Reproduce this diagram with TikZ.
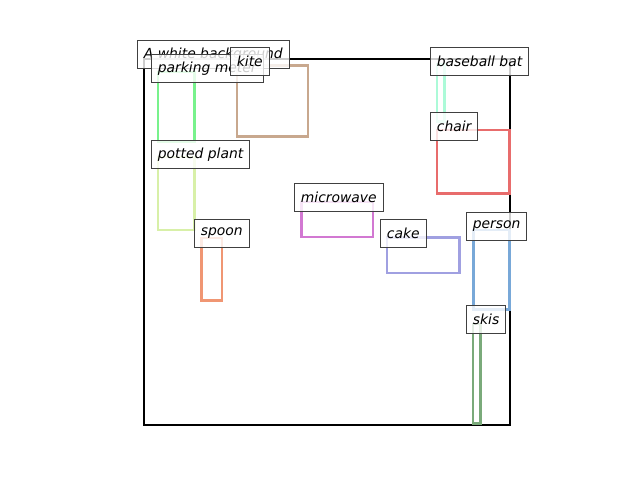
\documentclass[tikz,border=0pt]{standalone}
\usepackage{fontspec}
\setmainfont{DejaVu Sans}
\definecolor{meter}{RGB}{120,242,140}
\definecolor{plant}{RGB}{216,240,168}
\definecolor{kitec}{RGB}{200,168,142}
\definecolor{batc}{RGB}{172,250,216}
\definecolor{chairc}{RGB}{232,108,108}
\definecolor{spoonc}{RGB}{240,150,115}
\definecolor{micro}{RGB}{210,120,210}
\definecolor{cakec}{RGB}{160,160,225}
\definecolor{personc}{RGB}{120,168,216}
\definecolor{skisc}{RGB}{122,170,122}
\begin{document}
\begin{tikzpicture}[x=0.72pt,y=-0.72pt,
    objbox/.style ={line width=1.5pt},
    tag/.style ={draw=black!75, line width=0.7pt, fill=white, fill opacity=0.8, text opacity=1,
        anchor=north west, inner xsep=4.6pt, inner ysep=0pt, minimum height=20.2pt,
        font=\fontsize{10}{12}\selectfont\itshape}]
   \useasboundingbox (0,0) rectangle (640,480);
   \draw[line width=1.5pt] (144,59) rectangle (510,425);
   \draw[objbox,meter] (158,72) rectangle (194.5,141.5);
   \draw[objbox,plant] (158,157) rectangle (194.5,230);
   \draw[objbox,kitec] (237,65.5) rectangle (308,136.5);
   \draw[objbox,batc] (437,64) rectangle (444.5,121.5);
   \draw[objbox,chairc] (437,130) rectangle (509.5,193.5);
   \draw[objbox,spoonc] (201.5,238) rectangle (222,300.5);
   \draw[objbox,micro] (301.5,202) rectangle (373,237);
   \draw[objbox,cakec] (387,237.5) rectangle (459.5,273);
   \draw[objbox,personc] (473.5,230) rectangle (509.5,309.5);
   \draw[objbox,skisc] (473,324) rectangle (480.5,423.5);
   \node[tag] (bg)  at (137,40)  {A white background};
   \node[tag] (meterlab) at (151,54)  {parking meter};
   \node[tag] (kitelab)  at (230,47)  {kite};
   \node[tag] (batlab)   at (430,47)  {baseball bat};
   \node[tag] (chairlab) at (430,112) {chair};
   \node[tag] (plantlab) at (151,140) {potted plant};
   \node[tag] (microlab) at (294,183) {microwave};
   \node[tag] (spoonlab) at (194,219) {spoon};
   \node[tag] (cakelab)  at (380,219) {cake};
   \node[tag] (personlab) at (466,212) {person};
   \node[tag] (skislab)  at (466,305) {skis};
 \end{tikzpicture}
\end{document}
